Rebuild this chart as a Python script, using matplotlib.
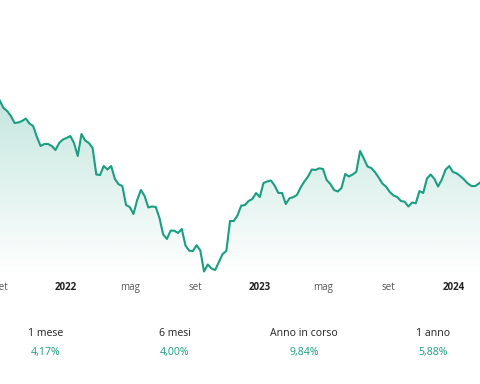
import numpy as np
import pandas as pd
import matplotlib
matplotlib.use("Agg")
import matplotlib.pyplot as plt
import matplotlib.dates as mdates
from matplotlib.patches import PathPatch

plt.rcParams['font.family'] = ['Open Sans', 'DejaVu Sans']

# weekly series (arbitrary index units)
start_date = "2021-08-29"
values = [
    199.5, 192.0, 189.0, 184.0, 177.0, 177.5, 179.0, 181.5, 176.5, 174.0,
    163.0, 154.0, 156.0, 156.0, 154.0, 150.0, 157.0, 160.5, 162.0, 164.0,
    157.0, 144.0, 166.0, 159.5, 157.0, 152.0, 125.5, 125.0, 134.0, 130.5,
    134.0, 121.0, 115.7, 114.0, 95.0, 93.0, 86.0, 100.0, 110.0, 104.0,
    92.5, 93.5, 93.0, 82.0, 65.5, 61.0, 69.4, 69.3, 67.0, 71.0,
    54.5, 49.3, 49.0, 54.8, 49.5, 28.5, 35.5, 31.5, 30.0, 38.0,
    46.0, 49.0, 79.0, 79.0, 84.5, 94.3, 95.0, 99.0, 101.0, 107.0,
    103.0, 117.0, 118.5, 119.5, 114.5, 107.0, 107.0, 96.0, 101.7, 102.8,
    105.0, 112.5, 118.5, 123.5, 130.5, 130.0, 131.7, 131.0, 120.0, 116.0,
    110.0, 108.5, 112.0, 126.0, 123.5, 125.5, 128.3, 149.0, 141.5, 133.5,
    132.0, 128.0, 122.5, 116.5, 113.3, 108.0, 104.5, 103.0, 99.0, 98.3,
    93.5, 97.5, 96.7, 109.0, 107.0, 121.5, 125.5, 121.2, 113.5, 120.5,
    130.2, 134.0, 128.0, 126.7, 123.8, 120.5, 116.5, 114.0, 114.0, 116.5,
    119.5,
]
dates = pd.date_range(start_date, periods=len(values), freq="7D")

tick_dates = ["2021-09-01", "2022-01-01", "2022-05-01", "2022-09-01",
              "2023-01-01", "2023-05-01", "2023-09-01", "2024-01-01"]
tick_labels = ["set", "2022", "mag", "set", "2023", "mag", "set", "2024"]
x_range = ["2021-08-29 12:00", "2024-02-20 00:00"]
y_range = [24, 300]

stat_names = ["1 mese", "6 mesi", "Anno in corso", "1 anno"]
stat_values = ["4,17%", "4,00%", "9,84%", "5,88%"]

line_color = "#1a9e80"

fig = plt.figure(figsize=(4.8, 3.84), dpi=100)
ax = fig.add_axes([0, 1 - 276 / 384, 1, 276 / 384])

x = mdates.date2num(dates)
xlo, xhi = mdates.date2num(pd.to_datetime(x_range, format="ISO8601"))
ax.set_xlim(xlo, xhi)
ax.set_ylim(*y_range)

# gradient fill under the line
fill = ax.fill_between(x, values, y_range[0], color="none", lw=0)
path = fill.get_paths()[0]
patch = PathPatch(path, transform=ax.transData, facecolor="none", edgecolor="none")
ax.add_patch(patch)
n = 256
alpha = np.linspace(0.40, 0.0, n)[:, None]  # top -> bottom
rgb = np.array(matplotlib.colors.to_rgb(line_color))
img = np.zeros((n, 1, 4))
img[..., :3] = rgb
img[..., 3] = alpha
im = ax.imshow(img, extent=[xlo, xhi, y_range[0], y_range[1]], aspect="auto",
               origin="upper", zorder=1, interpolation="bilinear")
im.set_clip_path(patch)

ax.plot(x, values, color=line_color, lw=1.5, zorder=3, solid_joinstyle="round")

for s in ax.spines.values():
    s.set_visible(False)
ax.set_yticks([])
tx = mdates.date2num(pd.to_datetime(tick_dates))
ax.set_xticks(tx)
ax.set_xticklabels(tick_labels)
ax.tick_params(axis="x", length=0, pad=4.5, labelsize=7)
for lab in ax.get_xticklabels():
    if lab.get_text().isdigit():
        lab.set_fontweight("bold")
        lab.set_color("#222222")
    else:
        lab.set_color("#555555")

# summary row
for i, (name, val) in enumerate(zip(stat_names, stat_values)):
    cx = (46 + 129 * i) / 480
    fig.text(cx, 1 - 334 / 384, name, ha="center", va="center", fontsize=7.6, color="#222222")
    fig.text(cx, 1 - 352 / 384, val, ha="center", va="center", fontsize=7.6, color=line_color)

fig.savefig("out.png", dpi=100, facecolor="white")
